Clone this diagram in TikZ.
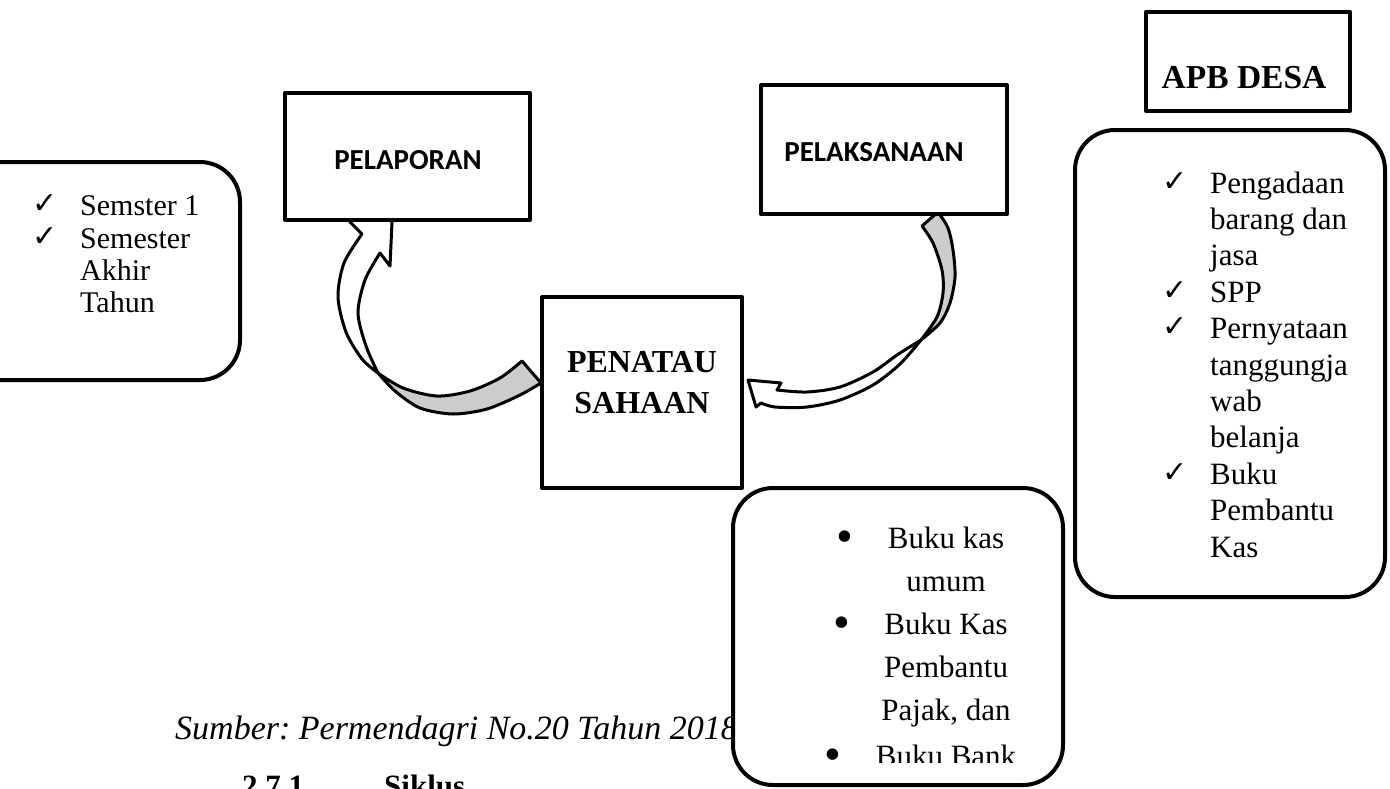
\documentclass[tikz,border=0pt]{standalone}
\usepackage{fontspec}
\setmainfont{Liberation Serif}
\newfontfamily\calfont{Carlito}
\newfontfamily\symfont{DejaVu Sans}
\frenchspacing
\begin{document}
\begin{tikzpicture}[x=1pt,y=-1pt,
  box/.style={draw, line width=4pt, fill=white, inner sep=0pt, line join=round},
  rbox/.style={box, rounded corners=40pt},
  arr/.style={draw, line width=3pt, line join=round},
  grayfill/.style={fill=black!20},
  head/.style={inner sep=0pt, font=\calfont\bfseries\fontsize{29}{34}\selectfont},
  bhead/.style={inner sep=0pt, anchor=base, font=\bfseries\fontsize{32}{38}\selectfont},
  ltxt/.style={anchor=base west, inner sep=0pt, font=\fontsize{30}{36}\selectfont},
  rtxt/.style={anchor=base west, inner sep=0pt, font=\fontsize{31}{36}\selectfont},
  mtxt/.style={anchor=base, inner sep=0pt, font=\fontsize{31}{36}\selectfont},
  chk/.style={anchor=base west, inner sep=0pt, font=\symfont\fontsize{30}{34}\selectfont},
  bul/.style={anchor=base, inner sep=0pt, font=\fontsize{48}{50}\selectfont}]
\useasboundingbox (0,0) rectangle (1390,788);
\clip (0,0) rectangle (1390,788);

% ---------- left curved arrow (PENATAU SAHAAN -> PELAPORAN) ----------
\coordinate (lc) at (378,373);
\coordinate (le1) at (522,361);
\coordinate (le2) at (541,383);
\path[arr, grayfill] (lc) -- plot[smooth] coordinates {(lc) (403,388) (437,396) (470,391) (500,378) (le1)}
  -- (le2) -- plot[smooth] coordinates {(le2) (520,395) (487,409) (453,414) (420,408) (395,391) (lc)} -- cycle;
\coordinate (ljo) at (362,234);
\coordinate (lbl) at (350,222);
\coordinate (ltip) at (393,200);
\coordinate (lbr) at (390,266);
\coordinate (lji) at (380,253);
\path[arr, fill=white] (lc) -- plot[smooth] coordinates {(lc) (362,359) (346,332) (338,297) (344,263) (ljo)}
  -- (lbl) -- (ltip) -- (lbr) -- (lji)
  -- plot[smooth] coordinates {(lji) (365,280) (358,313) (366,346) (lc)} -- cycle;

% ---------- right curved arrow (PELAKSANAAN -> PENATAU SAHAAN) ----------
\coordinate (rc) at (921,340);
\coordinate (rg1) at (922,226);
\coordinate (rg2) at (938,212);
\path[arr, grayfill] (rg2) -- plot[smooth] coordinates {(rg2) (948,228) (953,250) (955,277) (950,303) (940,323) (rc)}
  -- plot[smooth] coordinates {(rc) (937,317) (943,293) (942,270) (933,243) (rg1)} -- cycle;
\coordinate (rj2) at (761,403);
\coordinate (rb2) at (756,407);
\coordinate (rtip) at (748,380);
\coordinate (rb1) at (781,383);
\coordinate (rj1) at (777,390);
\path[arr, fill=white] (rc) -- plot[smooth] coordinates {(rc) (900,364) (873,385) (840,400) (807,407) (775,407) (rj2)}
  -- (rb2) -- (rtip) -- (rb1) -- (rj1)
  -- plot[smooth] coordinates {(rj1) (807,392) (840,387) (873,372) (897,355) (rc)} -- cycle;

% ---------- boxes ----------
\node[box, minimum width=245pt, minimum height=127pt] (pelaporan) at (407.5,156.5) {};
\node[head] (tpelaporan) at (408,160) {PELAPORAN};
\node[box, minimum width=246pt, minimum height=129pt] (pelaksanaan) at (884,149.5) {};
\node[head] (tpelaksanaan) at (874,152) {PELAKSANAAN};
\node[box, minimum width=200pt, minimum height=191pt] (penatau) at (642,392.5) {};
\node[bhead] (tpenatau1) at (642,372) {PENATAU};
\node[bhead] (tpenatau2) at (642,413) {SAHAAN};
\node[box, minimum width=204pt, minimum height=99pt] (apb) at (1248,61.5) {};
\node[bhead, font=\bfseries\fontsize{33.5}{38}\selectfont] (tapb) at (1244,88) {APB DESA};

% left rounded box
\node[rbox, minimum width=300pt, minimum height=218pt] (lbox) at (90,271) {};
\node[chk] (lc1) at (32,213) {✓};
\node[ltxt] (lt1) at (80,215) {Semster 1};
\node[chk] (lc2) at (32,246) {✓};
\node[ltxt] (lt2) at (80,248) {Semester};
\node[ltxt] (lt3) at (80,280) {Akhir};
\node[ltxt] (lt4) at (80,312) {Tahun};

% right rounded box
\node[rbox, minimum width=310pt, minimum height=467pt] (rbox) at (1230,363.5) {};
\foreach \t [count=\i from 0] in {Pengadaan, barang dan, jasa, SPP, Pernyataan, tanggungja, wab, belanja, Buku, Pembantu, Kas}{
  \node[rtxt] (rt\i) at (1210,193+36.4*\i) {\t};
}
\foreach \i in {0,3,4,8}{
  \node[chk] (rk\i) at (1162,191+36.4*\i) {✓};
}

% source line
\node[anchor=base west, inner sep=0pt, font=\itshape\fontsize{34}{38}\selectfont] (sumber) at (175,739) {Sumber: Permendagri No.20 Tahun 2018};
\node[anchor=base west, inner sep=0pt, font=\bfseries\fontsize{31}{36}\selectfont] (sec) at (242,796) {2.7.1};
\node[anchor=base west, inner sep=0pt, font=\bfseries\fontsize{31}{36}\selectfont] (siklus) at (384,796) {Siklus};

% middle rounded box
\node[rbox, minimum width=330pt, minimum height=297pt] (mbox) at (898,636.5) {};
\begin{scope}
\clip (733,488) rectangle (1063,762);
\node[mtxt] (mt1) at (946,548) {Buku kas};
\node[mtxt] (mt2) at (946,591) {umum};
\node[mtxt] (mt3) at (946,634) {Buku Kas};
\node[mtxt] (mt4) at (946,677) {Pembantu};
\node[mtxt] (mt5) at (946,720) {Pajak, dan};
\node[mtxt] (mt6) at (946,766) {Buku Bank};
\node[bul] (mb1) at (845,552) {•};
\node[bul] (mb3) at (842,638) {•};
\node[bul] (mb6) at (833,770) {•};
\end{scope}
\end{tikzpicture}
\end{document}
